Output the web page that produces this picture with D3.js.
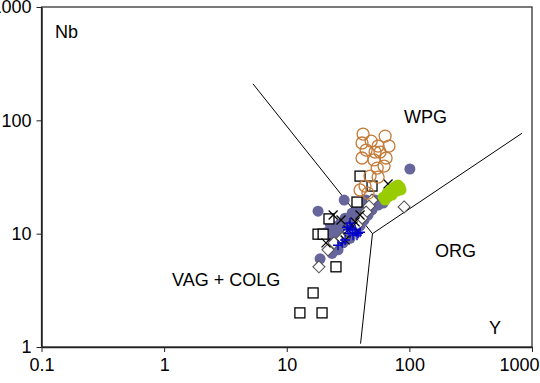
<!DOCTYPE html>
<html>
<head>
<meta charset="utf-8">
<script src="https://cdn.jsdelivr.net/npm/d3@7"></script>
<style>
  body { margin: 0; background: #fff; }
  svg { display: block; font-family: "Liberation Sans", Arial, sans-serif; }
</style>
</head>
<body>
<svg id="chart" width="540" height="383"></svg>
<script>
// Nb - Y discrimination diagram
var xTicks = [0.1, 1, 10, 100, 1000];
var yTicks = [1, 10, 100, 1000];

var squares = [[39.6, 32.2], [37.4, 19.0], [49.6, 26.3], [22.1, 13.5], [18.0, 9.9],
  [19.8, 9.9], [25.2, 5.1], [16.4, 3.0], [12.8, 2.0], [19.4, 2.0]];

var diamonds = [[49.6, 19.8], [46.9, 17.5], [44.4, 15.5], [41.1, 13.7], [37.4, 11.9],
  [32.2, 10.5], [28.3, 9.1], [24.3, 8.3], [21.7, 7.2], [18.3, 5.1], [90.6, 17.2]];

var dots = [[101, 37.2], [61.1, 18.6], [29.4, 19.8], [18.0, 15.8], [18.7, 6.0], [23.4, 6.7],
  [25.7, 8.8], [28.3, 10.1], [31.6, 11.7], [34.7, 12.7], [38.2, 14.3], [41.9, 15.5],
  [45.2, 17.2], [49.6, 17.9], [34.1, 15.2], [29.9, 13.7], [27.2, 12.2], [24.8, 10.8],
  [22.6, 9.5], [36.7, 11.2], [41.1, 13.2], [32.8, 9.1], [28.8, 8.3], [44.4, 19.8], [37.4, 17.9],
  [24.8, 9.1], [27.2, 10.3], [30.5, 11.2], [33.4, 13.2], [36.7, 13.7], [40.3, 15.2],
  [44.4, 16.8], [47.8, 18.6], [52.5, 19.8], [55.6, 17.9], [49.6, 16.2], [46.0, 14.6],
  [42.7, 13.2], [39.6, 11.7], [35.4, 10.3], [31.6, 9.3], [28.3, 8.4], [26.2, 7.2],
  [21.3, 10.3], [22.6, 12.2]];

var crosses = [[67.0, 27.4], [23.9, 14.6], [27.7, 13.2], [39.6, 14.6], [36.1, 12.7],
  [20.9, 8.3], [29.9, 8.8], [34.7, 11.7], [31.6, 10.8]];

var pluses = [[31.6, 10.8], [34.1, 11.2], [36.1, 10.8], [38.2, 10.1], [32.8, 10.1],
  [34.7, 9.7], [37.4, 9.7], [31.0, 11.4], [26.2, 7.9], [28.3, 8.3], [29.9, 8.8],
  [39.6, 10.3], [32.8, 12.4]];

var rings = [[41.9, 75.7], [63.4, 72.6], [48.8, 65.6], [41.1, 63.1], [55.6, 59.3],
  [68.2, 59.3], [44.4, 54.7], [52.5, 52.5], [57.7, 52.5], [64.6, 46.5], [41.1, 46.5],
  [51.5, 44.7], [62.2, 39.5], [54.6, 37.9], [47.8, 32.2], [55.6, 31.6], [43.5, 26.3],
  [39.6, 24.3], [46.0, 22.8]];

var greens = [[61.1, 21.0], [65.8, 22.8], [69.5, 24.3], [73.6, 25.3], [77.8, 26.3],
  [80.9, 26.9], [83.9, 25.8], [85.5, 24.3], [79.4, 23.8], [72.3, 21.9], [67.0, 21.0],
  [63.4, 19.8]];

// field boundaries
var boundaries = [
  [[5.3, 210], [50, 10]],
  [[50, 10], [830, 77]],
  [[50, 10], [40, 1.07]]
];

var labels = [
  { t: "Nb", x: 0.129, y: 530 },
  { t: "WPG", x: 90.6, y: 94.6 },
  { t: "ORG", x: 162, y: 6.2 },
  { t: "VAG + COLG", x: 1.16, y: 3.44 },
  { t: "Y", x: 447, y: 1.30 }
];

var svg = d3.select("#chart");
var x = d3.scaleLog().domain([0.1, 1000]).range([41.5, 532]);
var y = d3.scaleLog().domain([1, 1000]).range([347, 7]);

// frame
svg.append("rect")
  .attr("x", 41.5).attr("y", 7)
  .attr("width", 532 - 41.5).attr("height", 340)
  .attr("fill", "none").attr("stroke", "#222").attr("stroke-width", 1.2);

var fmt = function (d) { return d < 1 ? "0.1" : String(d); };

svg.append("g")
  .attr("transform", "translate(0,347)")
  .call(d3.axisBottom(x).tickValues(xTicks).tickFormat(fmt).tickSize(5).tickSizeOuter(0))
  .call(function (g) {
    g.select(".domain").attr("stroke", "#222").attr("stroke-width", 1.5);
    g.selectAll("line").attr("stroke", "#222");
    g.selectAll("text").attr("font-size", 18).attr("fill", "#000").attr("dy", "0.9em")
      .attr("font-family", "Liberation Sans, Arial, sans-serif");
    // last label is pulled inside the window, as in the original
    g.selectAll("text").filter(function (d) { return d === 1000; })
      .attr("text-anchor", "end").attr("x", 7);
  });

svg.append("g")
  .attr("transform", "translate(41.5,0)")
  .call(d3.axisLeft(y).tickValues(yTicks).tickFormat(fmt).tickSize(5).tickSizeOuter(0))
  .call(function (g) {
    g.select(".domain").attr("stroke", "#222").attr("stroke-width", 1.5);
    g.selectAll("line").attr("stroke", "#222");
    g.selectAll("text").attr("font-size", 18).attr("fill", "#000").attr("x", -10)
      .attr("font-family", "Liberation Sans, Arial, sans-serif");
  });

var line = d3.line().x(function (d) { return x(d[0]); }).y(function (d) { return y(d[1]); });
svg.append("g").selectAll("path").data(boundaries).join("path")
  .attr("d", line).attr("fill", "none").attr("stroke", "#000").attr("stroke-width", 1);

// markers
svg.append("g").selectAll("circle").data(dots).join("circle")
  .attr("cx", function (d) { return x(d[0]); })
  .attr("cy", function (d) { return y(d[1]); })
  .attr("r", 5.5).attr("fill", "#66669c");

svg.append("g").selectAll("rect").data(squares).join("rect")
  .attr("x", function (d) { return x(d[0]) - 5; })
  .attr("y", function (d) { return y(d[1]) - 5; })
  .attr("width", 10).attr("height", 10)
  .attr("fill", "#fff").attr("stroke", "#000").attr("stroke-width", 1.3);

svg.append("g").selectAll("path").data(diamonds).join("path")
  .attr("transform", function (d) { return "translate(" + x(d[0]) + "," + y(d[1]) + ")"; })
  .attr("d", "M0,-6L6,0L0,6L-6,0Z")
  .attr("fill", "#fff").attr("stroke", "#555").attr("stroke-width", 1.1);

svg.append("g").selectAll("path").data(crosses).join("path")
  .attr("transform", function (d) { return "translate(" + x(d[0]) + "," + y(d[1]) + ")"; })
  .attr("d", "M-4.5,-4.5L4.5,4.5M-4.5,4.5L4.5,-4.5")
  .attr("stroke", "#000").attr("stroke-width", 1.3);

svg.append("g").selectAll("path").data(pluses).join("path")
  .attr("transform", function (d) { return "translate(" + x(d[0]) + "," + y(d[1]) + ")"; })
  .attr("d", "M-5,0L5,0M0,-5L0,5")
  .attr("stroke", "#0000cc").attr("stroke-width", 1.4);

svg.append("g").selectAll("circle").data(rings).join("circle")
  .attr("cx", function (d) { return x(d[0]); })
  .attr("cy", function (d) { return y(d[1]); })
  .attr("r", 6).attr("fill", "none").attr("stroke", "#c47a38").attr("stroke-width", 1.3);

svg.append("g").selectAll("circle").data(greens).join("circle")
  .attr("cx", function (d) { return x(d[0]); })
  .attr("cy", function (d) { return y(d[1]); })
  .attr("r", 5.5).attr("fill", "#99cc00");

svg.append("g").selectAll("text").data(labels).join("text")
  .attr("x", function (d) { return x(d.x); })
  .attr("y", function (d) { return y(d.y); })
  .attr("font-size", 18).attr("fill", "#000")
  .text(function (d) { return d.t; });
</script>
</body>
</html>
